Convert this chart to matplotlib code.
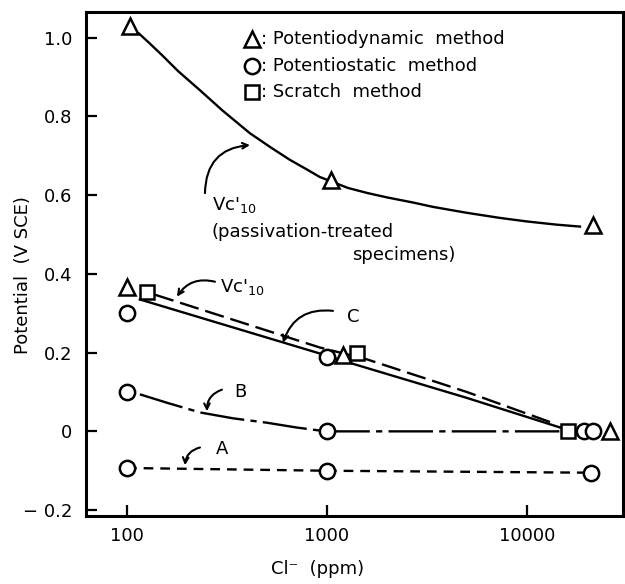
import matplotlib
matplotlib.use("Agg")
import matplotlib.pyplot as plt

plt.rcParams['font.family'] = ['DejaVu Sans']
plt.rcParams['lines.scale_dashes'] = False

# ---- data ----
# Potentiodynamic (triangles)
tri_upper_x = [103, 1050, 21400]
tri_upper_y = [1.03, 0.638, 0.524]
tri_lower_x = [100, 1200, 26000]
tri_lower_y = [0.367, 0.195, 0.0]
# Scratch method (squares)
sq_x = [126, 1420, 16000]
sq_y = [0.355, 0.200, 0.0]
# Potentiostatic (circles)
circ_C_x = [100, 1000, 19300]
circ_C_y = [0.300, 0.190, 0.0]
circ_B_x = [100, 1000, 21300]
circ_B_y = [0.100, 0.0, 0.0]
circ_A_x = [100, 1000, 21000]
circ_A_y = [-0.093, -0.100, -0.105]

# curve traces
upper_curve_x = [115, 130, 150, 180, 232, 300, 412, 520, 650, 800, 920,
                 1275, 1600, 2000, 2700, 3390, 5000, 7330, 10000, 14000, 18400]
upper_curve_y = [1.01, 0.985, 0.955, 0.915, 0.866, 0.815, 0.757, 0.722, 0.690, 0.664, 0.646,
                 0.618, 0.605, 0.594, 0.581, 0.570, 0.555, 0.542, 0.533, 0.525, 0.520]
solid_C_x = [116, 890, 1380, 5000, 14600]
solid_C_y = [0.335, 0.200, 0.170, 0.085, 0.010]
dash_sq_x = [138, 920, 1580, 5000, 14000]
dash_sq_y = [0.347, 0.213, 0.183, 0.100, 0.018]
B_curve_x = [116, 160, 232, 340, 500, 700, 890, 1000, 16000]
B_curve_y = [0.094, 0.072, 0.048, 0.033, 0.022, 0.010, 0.003, 0.0, 0.0]
A_curve_x = [100, 1000, 21000]
A_curve_y = [-0.093, -0.100, -0.105]

yticks = [-0.2, 0.0, 0.2, 0.4, 0.6, 0.8, 1.0]
ytick_labels = ['\u2212 0.2', '0', '0.2', '0.4', '0.6', '0.8', '1.0']
xticks = [100, 1000, 10000]
xtick_labels = ['100', '1000', '10000']


def px2x(px):
    return 10 ** (2 + (px - 127) / 200)


fig = plt.figure(figsize=(6.25, 5.84), dpi=100)
ax = fig.add_axes([0.1376, 0.1164, 0.8592, 0.8631])
ax.set_xscale('log')
ax.set_xlim(62.4, 30200)
ax.set_ylim(-0.215, 1.065)

lw = 1.7
ax.plot(upper_curve_x, upper_curve_y, color='black', lw=lw, solid_joinstyle='round')
ax.plot(solid_C_x, solid_C_y, color='black', lw=lw)
ax.plot(dash_sq_x, dash_sq_y, color='black', lw=lw, dashes=(14, 5))
ax.plot(B_curve_x, B_curve_y, color='black', lw=lw, dashes=(32, 4.5, 4.5, 4.5))
ax.plot(A_curve_x, A_curve_y, color='black', lw=lw, dashes=(7, 5))

mk = dict(linestyle='none', markerfacecolor='white', markeredgecolor='black',
          markeredgewidth=1.8, zorder=5)
ax.plot(tri_upper_x, tri_upper_y, marker='^', markersize=12, **mk)
ax.plot(tri_lower_x, tri_lower_y, marker='^', markersize=12, **mk)
ax.plot(sq_x, sq_y, marker='s', markersize=10.5, **mk)
ax.plot(circ_C_x, circ_C_y, marker='o', markersize=11, **mk)
ax.plot(circ_B_x, circ_B_y, marker='o', markersize=11, **mk)
ax.plot(circ_A_x, circ_A_y, marker='o', markersize=11, **mk)

# legend-like key
fs = 13
key_y = [0.946, 0.893, 0.841]
key_m = [('^', 12), ('o', 11), ('s', 10.5)]
key_t = [': Potentiodynamic  method', ': Potentiostatic  method', ': Scratch  method']
for yy, (m, s), t in zip(key_y, key_m, key_t):
    ax.plot([0.309], [yy], marker=m, markersize=s, transform=ax.transAxes,
            clip_on=False, **mk)
    ax.text(0.326, yy, t, transform=ax.transAxes, fontsize=fs, va='center', ha='left')

# annotations
arr = dict(arrowstyle='->', color='black', lw=1.5, shrinkA=0, shrinkB=0)
ax.text(px2x(212), 0.575, "Vc'$_{\\mathregular{10}}$", fontsize=fs, va='center', ha='left')
ax.text(px2x(212), 0.506, "(passivation-treated", fontsize=fs, va='center', ha='left')
ax.text(px2x(352), 0.448, "specimens)", fontsize=fs, va='center', ha='left')
ax.annotate('', xy=(px2x(250), 0.727), xytext=(px2x(205), 0.605),
            arrowprops=dict(connectionstyle='arc3,rad=-0.45', **arr))

ax.text(px2x(220), 0.367, "Vc'$_{\\mathregular{10}}$", fontsize=fs, va='center', ha='left')
ax.annotate('', xy=(px2x(177), 0.342), xytext=(px2x(215), 0.380),
            arrowprops=dict(connectionstyle='arc3,rad=0.35', **arr))

ax.text(px2x(353), 0.291, "C", fontsize=fs, va='center', ha='center')
ax.annotate('', xy=(px2x(283), 0.225), xytext=(px2x(333), 0.306),
            arrowprops=dict(connectionstyle='arc3,rad=0.4', **arr))

ax.text(px2x(240), 0.099, "B", fontsize=fs, va='center', ha='center')
ax.annotate('', xy=(px2x(207), 0.051), xytext=(px2x(222), 0.106),
            arrowprops=dict(connectionstyle='arc3,rad=0.35', **arr))

ax.text(px2x(222), -0.046, "A", fontsize=fs, va='center', ha='center')
ax.annotate('', xy=(px2x(185), -0.086), xytext=(px2x(200), -0.041),
            arrowprops=dict(connectionstyle='arc3,rad=0.35', **arr))

ax.set_xticks(xticks)
ax.set_xticklabels(xtick_labels)
ax.set_yticks(yticks)
ax.set_yticklabels(ytick_labels)
ax.minorticks_off()
ax.tick_params(direction='in', length=8, width=1.6, labelsize=fs, pad=8)
ax.tick_params(axis='y', pad=10)
for s in ax.spines.values():
    s.set_linewidth(2.2)

ax.set_xlabel('Cl\u207b  (ppm)', fontsize=fs)
ax.set_ylabel('Potential  (V SCE)', fontsize=fs)
ax.xaxis.set_label_coords(0.432, -0.088)
ax.yaxis.set_label_coords(-0.10, 0.478)

fig.savefig('out.png', dpi=100)
